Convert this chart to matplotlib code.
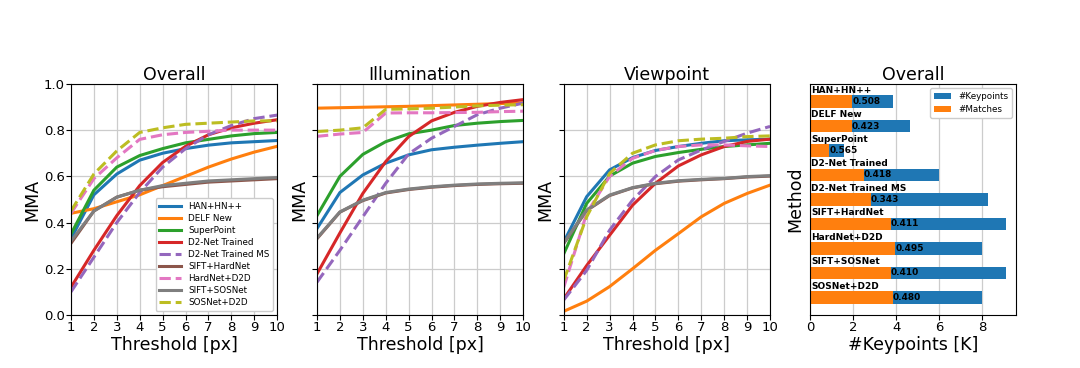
import numpy as np
import matplotlib
matplotlib.use("Agg")
import matplotlib.pyplot as plt

# %% Data
thresholds = [1, 2, 3, 4, 5, 6, 7, 8, 9, 10]
methods = ["HAN+HN++", "DELF New", "SuperPoint", "D2-Net Trained", "D2-Net Trained MS",
           "SIFT+HardNet", "HardNet+D2D", "SIFT+SOSNet", "SOSNet+D2D"]

mma_overall = {
    "HAN+HN++":          [0.33, 0.52, 0.61, 0.67, 0.70, 0.72, 0.735, 0.745, 0.75, 0.755],
    "DELF New":          [0.44, 0.46, 0.49, 0.52, 0.56, 0.60, 0.64, 0.675, 0.705, 0.73],
    "SuperPoint":        [0.35, 0.54, 0.64, 0.69, 0.72, 0.745, 0.76, 0.775, 0.785, 0.79],
    "D2-Net Trained":    [0.12, 0.28, 0.43, 0.56, 0.66, 0.73, 0.78, 0.81, 0.83, 0.845],
    "D2-Net Trained MS": [0.10, 0.25, 0.40, 0.53, 0.64, 0.72, 0.78, 0.82, 0.85, 0.865],
    "SIFT+HardNet":      [0.31, 0.45, 0.51, 0.54, 0.555, 0.565, 0.575, 0.58, 0.585, 0.59],
    "HardNet+D2D":       [0.44, 0.59, 0.68, 0.76, 0.78, 0.79, 0.795, 0.80, 0.80, 0.80],
    "SIFT+SOSNet":       [0.32, 0.45, 0.51, 0.54, 0.56, 0.57, 0.58, 0.585, 0.59, 0.595],
    "SOSNet+D2D":        [0.45, 0.61, 0.71, 0.79, 0.81, 0.825, 0.83, 0.835, 0.84, 0.84],
}
mma_illum = {
    "HAN+HN++":          [0.374, 0.53, 0.606, 0.657, 0.693, 0.715, 0.726, 0.735, 0.743, 0.75],
    "DELF New":          [0.895, 0.897, 0.899, 0.901, 0.903, 0.906, 0.909, 0.912, 0.915, 0.918],
    "SuperPoint":        [0.43, 0.60, 0.695, 0.75, 0.784, 0.80, 0.82, 0.83, 0.837, 0.842],
    "D2-Net Trained":    [0.178, 0.355, 0.526, 0.664, 0.772, 0.84, 0.877, 0.903, 0.92, 0.932],
    "D2-Net Trained MS": [0.142, 0.28, 0.425, 0.57, 0.697, 0.765, 0.816, 0.867, 0.895, 0.917],
    "SIFT+HardNet":      [0.33, 0.445, 0.495, 0.528, 0.543, 0.553, 0.56, 0.565, 0.568, 0.57],
    "HardNet+D2D":       [0.773, 0.783, 0.79, 0.874, 0.875, 0.875, 0.876, 0.877, 0.88, 0.882],
    "SIFT+SOSNet":       [0.333, 0.446, 0.497, 0.53, 0.545, 0.555, 0.562, 0.567, 0.57, 0.572],
    "SOSNet+D2D":        [0.794, 0.80, 0.81, 0.89, 0.892, 0.895, 0.90, 0.905, 0.908, 0.91],
}
mma_view = {
    "HAN+HN++":          [0.316, 0.512, 0.628, 0.681, 0.712, 0.729, 0.743, 0.754, 0.758, 0.761],
    "DELF New":          [0.016, 0.06, 0.123, 0.20, 0.28, 0.352, 0.425, 0.483, 0.526, 0.562],
    "SuperPoint":        [0.265, 0.483, 0.601, 0.657, 0.686, 0.703, 0.717, 0.729, 0.736, 0.743],
    "D2-Net Trained":    [0.07, 0.214, 0.345, 0.475, 0.57, 0.645, 0.693, 0.729, 0.751, 0.761],
    "D2-Net Trained MS": [0.065, 0.193, 0.367, 0.497, 0.599, 0.671, 0.714, 0.751, 0.787, 0.816],
    "SIFT+HardNet":      [0.31, 0.452, 0.517, 0.55, 0.568, 0.579, 0.585, 0.59, 0.597, 0.601],
    "HardNet+D2D":       [0.12, 0.44, 0.60, 0.678, 0.712, 0.729, 0.736, 0.736, 0.732, 0.729],
    "SIFT+SOSNet":       [0.312, 0.454, 0.519, 0.551, 0.57, 0.581, 0.587, 0.591, 0.599, 0.603],
    "SOSNet+D2D":        [0.149, 0.425, 0.613, 0.70, 0.736, 0.754, 0.761, 0.765, 0.772, 0.775],
}

keypoints = [3.86, 4.62, 1.59, 5.99, 8.26, 9.12, 8.00, 9.12, 8.00]
matches = [1.96, 1.95, 0.90, 2.50, 2.83, 3.75, 3.96, 3.74, 3.84]
ratio_labels = ["0.508", "0.423", "0.565", "0.418", "0.343", "0.411", "0.495", "0.410", "0.480"]

styles = {
    "HAN+HN++": ("tab:blue", "-"),
    "DELF New": ("tab:orange", "-"),
    "SuperPoint": ("tab:green", "-"),
    "D2-Net Trained": ("tab:red", "-"),
    "D2-Net Trained MS": ("tab:purple", "--"),
    "SIFT+HardNet": ("tab:brown", "-"),
    "HardNet+D2D": ("tab:pink", "--"),
    "SIFT+SOSNet": ("tab:gray", "-"),
    "SOSNet+D2D": ("tab:olive", "--"),
}

# %% Figure
fig = plt.figure(figsize=(10.8, 3.68), dpi=100)
bottom, height = 0.144, 0.628
lefts = [0.0657, 0.2935, 0.522, 0.75]
width = 0.191

panels = [("Overall", mma_overall), ("Illumination", mma_illum), ("Viewpoint", mma_view)]
for i, (title, data) in enumerate(panels):
    ax = fig.add_axes([lefts[i], bottom, width, height])
    for m in methods:
        c, ls = styles[m]
        ax.plot(thresholds, data[m], color=c, linestyle=ls, linewidth=2.2, label=m)
    ax.set_xlim(1, 10)
    ax.set_ylim(0, 1)
    ax.set_xticks(thresholds)
    ax.set_yticks(np.arange(0, 1.01, 0.2))
    ax.grid(True, color="#cccccc", linewidth=0.9)
    ax.set_title(title, fontsize=12.5, pad=3)
    ax.set_xlabel("Threshold [px]", fontsize=12.5, labelpad=1)
    ax.set_ylabel("MMA", fontsize=12.5, labelpad=2)
    ax.tick_params(labelsize=9.5, pad=1)
    if i > 0:
        ax.set_yticklabels([])
    if i == 0:
        ax.legend(loc="lower right", fontsize=6.3, handlelength=2.5, labelspacing=0.35,
                  borderpad=0.4, framealpha=1)

# %% Keypoints bar chart
ax = fig.add_axes([lefts[3], bottom, width, height])
pos = np.arange(len(methods))
ax.barh(pos, keypoints, height=0.5, color="tab:blue", label="#Keypoints")
ax.barh(pos, matches, height=0.5, color="tab:orange", label="#Matches")
for p, m, k, r in zip(pos, methods, matches, ratio_labels):
    ax.text(0.05, p - 0.27, m, fontsize=6.5, fontweight="bold", ha="left", va="bottom")
    ax.text(k, p, r, fontsize=6.5, fontweight="bold", ha="left", va="center")
ax.set_ylim(len(methods) - 1 + 0.72, -0.72)
ax.set_yticks([])
ax.set_xticks([0, 2, 4, 6, 8])
ax.grid(True, axis="x", color="#cccccc", linewidth=0.9)
ax.set_axisbelow(True)
ax.set_title("Overall", fontsize=12.5, pad=3)
ax.set_xlabel("#Keypoints [K]", fontsize=12.5, labelpad=1)
ax.set_ylabel("Method", fontsize=12.5, labelpad=4)
ax.tick_params(labelsize=9.5, pad=1)
ax.legend(loc="upper right", fontsize=6.3, framealpha=1, borderpad=0.4)

fig.savefig("out.png", dpi=100)
